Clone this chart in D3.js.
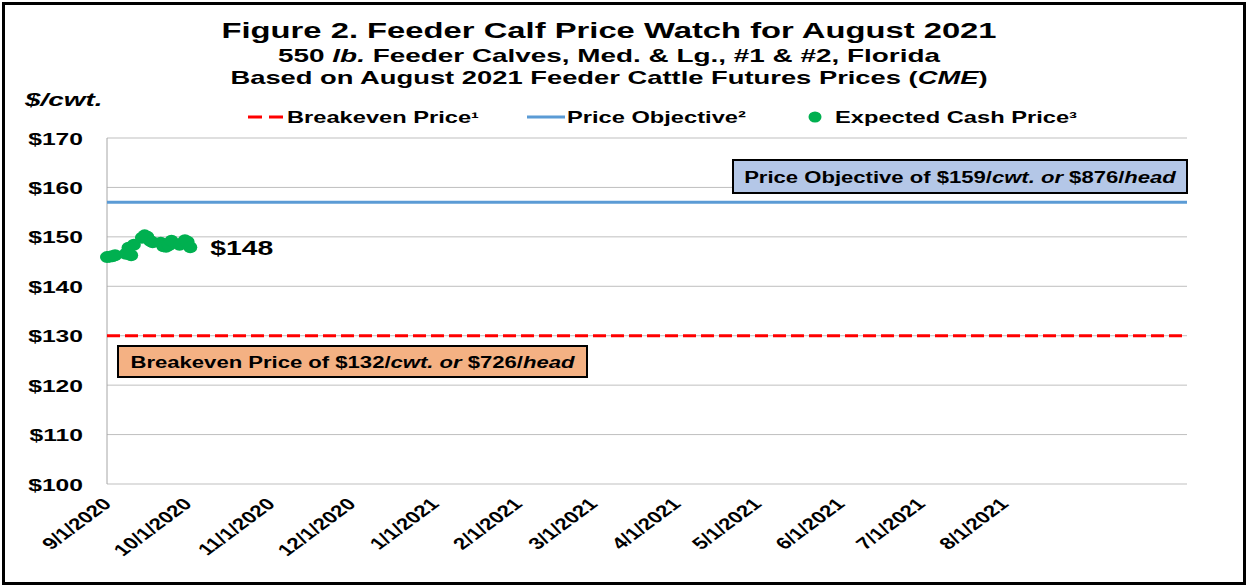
<!DOCTYPE html>
<html>
<head>
<meta charset="utf-8">
<script src="https://cdn.jsdelivr.net/npm/d3@7"></script>
<style>
  body { margin: 0; background: #fff; }
  svg text { font-family: Arial, "Liberation Sans", sans-serif; font-weight: bold; fill: #000; }
</style>
</head>
<body>
<svg id="chart"></svg>
<script>
const width = 1247;
const height = 586;

// Expected cash price, daily (Sep 2020 trading days)
const cashDates = ["2020-09-01","2020-09-02","2020-09-03","2020-09-04","2020-09-08","2020-09-09",
    "2020-09-10","2020-09-11","2020-09-14","2020-09-15","2020-09-16","2020-09-17","2020-09-18",
    "2020-09-21","2020-09-22","2020-09-23","2020-09-24","2020-09-25","2020-09-28","2020-09-29",
    "2020-09-30","2020-10-01","2020-10-02"];
const cashPrices = [145.9, 146.0, 146.1, 146.3, 146.6, 147.8, 146.3, 148.4, 149.8, 150.3, 150.0,
    149.2, 148.9, 148.8, 148.1, 148.0, 148.3, 149.2, 148.4, 148.7, 149.3, 149.0, 147.9];

// Flat reference lines across the whole axis
const lineDates = ["2020-09-01", "2021-10-08"];
const breakevenPrices = [130, 130];
const objectivePrices = [157, 157];

const tickDates = ["2020-09-01","2020-10-01","2020-11-01","2020-12-01","2021-01-01","2021-02-01",
    "2021-03-01","2021-04-01","2021-05-01","2021-06-01","2021-07-01","2021-08-01"];
const yTicks = [100, 110, 120, 130, 140, 150, 160, 170];

const legendNames = ["Breakeven Price\u00b9", "Price Objective\u00b2", "Expected Cash Price\u00b3"];

const margin = {top: 138, right: 60, bottom: 102, left: 107};
// the original picture is stretched sideways, text included
const STRETCH = 1.48;
const parse = d3.timeParse("%Y-%m-%d");

const svg = d3.select("#chart")
    .attr("width", width)
    .attr("height", height);

// widen a text element around its own anchor point
function stretch(sel, s)
{
    sel.each(function()
    {
        const t = d3.select(this);
        const tx = +t.attr("x") || 0;
        const ty = +t.attr("y") || 0;
        t.attr("x", 0).attr("y", 0)
            .attr("transform", `translate(${tx},${ty}) scale(${s},1)`);
    });
}

// outer frame
svg.append("rect")
    .attr("x", 3.5).attr("y", 3.5)
    .attr("width", width - 6).attr("height", height - 6)
    .attr("fill", "#fff")
    .attr("stroke", "#000")
    .attr("stroke-width", 3);

const x = d3.scaleTime()
    .domain(d3.extent(lineDates, parse))
    .range([margin.left, width - margin.right]);

const y = d3.scaleLinear()
    .domain([100, 170])
    .range([height - margin.bottom, margin.top]);

// gridlines
svg.append("g")
    .selectAll("line")
    .data(yTicks)
    .join("line")
    .attr("x1", margin.left).attr("x2", width - margin.right)
    .attr("y1", d => y(d)).attr("y2", d => y(d))
    .attr("stroke", "#bfbfbf")
    .attr("stroke-width", 1);

// left axis line
svg.append("line")
    .attr("x1", margin.left).attr("x2", margin.left)
    .attr("y1", margin.top).attr("y2", height - margin.bottom)
    .attr("stroke", "#a6a6a6");

// y axis labels
const yAxis = svg.append("g")
    .attr("transform", `translate(${margin.left - 24},0)`)
    .call(d3.axisLeft(y).tickValues(yTicks).tickSize(0).tickPadding(0).tickFormat(d => "$" + d));
yAxis.select(".domain").remove();
yAxis.selectAll("text")
    .attr("font-size", 17)
    .attr("dy", "0.36em")
    .style("font-family", "Arial, 'Liberation Sans', sans-serif")
    .style("font-weight", "bold")
    .call(stretch, 1.45);

// x axis labels
const xAxis = svg.append("g")
    .attr("transform", `translate(0,${height - margin.bottom})`)
    .call(d3.axisBottom(x).tickValues(tickDates.map(parse)).tickSize(0)
        .tickFormat(d3.timeFormat("%-m/%-d/%Y")));
xAxis.select(".domain").remove();
xAxis.selectAll("text")
    .attr("font-size", 16.5)
    .style("font-family", "Arial, 'Liberation Sans', sans-serif")
    .style("font-weight", "bold")
    .attr("text-anchor", "end")
    .attr("x", 0).attr("y", 0)
    .attr("dx", 0).attr("dy", 0)
    .attr("transform", "translate(5,21) scale(1.35,1) rotate(-45)");

const line = d3.line()
    .x(d => x(d.date))
    .y(d => y(d.value));

const breakeven = lineDates.map((d, i) => ({date: parse(d), value: breakevenPrices[i]}));
const objective = lineDates.map((d, i) => ({date: parse(d), value: objectivePrices[i]}));
const cash = cashDates.map((d, i) => ({date: parse(d), value: cashPrices[i]}));

svg.append("path")
    .datum(objective)
    .attr("d", line)
    .attr("fill", "none")
    .attr("stroke", "#5b9bd5")
    .attr("stroke-width", 3);

svg.append("path")
    .datum(breakeven)
    .attr("d", line)
    .attr("fill", "none")
    .attr("stroke", "#ff0000")
    .attr("stroke-width", 3)
    .attr("stroke-dasharray", "13,5");

svg.append("g")
    .selectAll("ellipse")
    .data(cash)
    .join("ellipse")
    .attr("cx", d => x(d.date))
    .attr("cy", d => y(d.value))
    .attr("rx", 7)
    .attr("ry", 6)
    .attr("fill", "#00b050");

// last value label
const last = cash[cash.length - 1];
svg.append("text")
    .attr("x", x(last.date) + 20)
    .attr("y", y(last.value) + 8)
    .attr("font-size", 21)
    .text("$" + Math.round(last.value))
    .call(stretch, 1.35);

// annotation boxes
function noteBox(bx, by, bw, bh, fill, parts)
{
    svg.append("rect")
        .attr("x", bx).attr("y", by)
        .attr("width", bw).attr("height", bh)
        .attr("fill", fill)
        .attr("stroke", "#000")
        .attr("stroke-width", 2);
    const t = svg.append("text")
        .attr("x", bx + bw / 2)
        .attr("y", by + bh / 2 + 6)
        .attr("text-anchor", "middle")
        .attr("font-size", 16);
    parts.forEach(p => t.append("tspan").attr("font-style", p[1] ? "italic" : "normal").text(p[0]));
    t.call(stretch, 1.38);
}

noteBox(733, 160, 454, 33, "#b4c7e7",
    [["Price Objective of $159/", false], ["cwt. or", true], [" $876/", false], ["head", true]]);
noteBox(118, 346, 469, 31, "#f4b183",
    [["Breakeven Price of $132/", false], ["cwt. or", true], [" $726/", false], ["head", true]]);

// titles
const titles = svg.append("g").attr("text-anchor", "middle");
titles.append("text").attr("x", 609).attr("y", 38).attr("font-size", 22)
    .text("Figure 2. Feeder Calf Price Watch for August 2021")
    .call(stretch, 1.49);
const t2 = titles.append("text").attr("x", 609).attr("y", 62).attr("font-size", 18);
t2.append("tspan").text("550 ");
t2.append("tspan").attr("font-style", "italic").text("lb.");
t2.append("tspan").text(" Feeder Calves, Med. & Lg., #1 & #2, Florida");
t2.call(stretch, 1.55);
const t3 = titles.append("text").attr("x", 609).attr("y", 84).attr("font-size", 18);
t3.append("tspan").text("Based on August 2021 Feeder Cattle Futures Prices (");
t3.append("tspan").attr("font-style", "italic").text("CME");
t3.append("tspan").text(")");
t3.call(stretch, 1.52);

svg.append("text")
    .attr("x", 25).attr("y", 106)
    .attr("font-size", 18)
    .attr("font-style", "italic")
    .text("$/cwt.")
    .call(stretch, 1.55);

// legend
const legend = svg.append("g").attr("transform", "translate(0,117)");
legend.append("line")
    .attr("x1", 248).attr("x2", 285).attr("y1", 0).attr("y2", 0)
    .attr("stroke", "#ff0000").attr("stroke-width", 3).attr("stroke-dasharray", "14,7");
legend.append("line")
    .attr("x1", 527).attr("x2", 565).attr("y1", 0).attr("y2", 0)
    .attr("stroke", "#5b9bd5").attr("stroke-width", 3);
legend.append("ellipse")
    .attr("cx", 815).attr("cy", 0).attr("rx", 6.5).attr("ry", 5.5).attr("fill", "#00b050");
legend.selectAll("text.lg")
    .data(legendNames)
    .join("text")
    .attr("class", "lg")
    .attr("x", (d, i) => [287, 567, 835][i])
    .attr("y", 6)
    .attr("font-size", 16)
    .text(d => d)
    .call(stretch, STRETCH);
</script>
</body>
</html>
